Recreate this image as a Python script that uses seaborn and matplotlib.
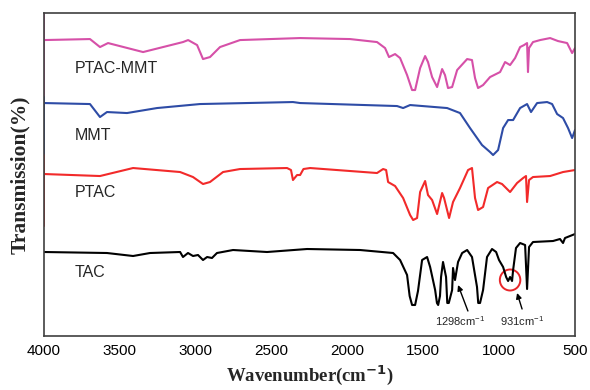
import seaborn as sns
import matplotlib.pyplot as plt
import matplotlib.patches as mpatches
import pandas as pd

# FTIR spectra, values (stacked, arbitrary transmission units)
wn_ptac_mmt = [4000, 3697, 3631, 3578, 3347, 3084, 3050, 2991, 2952, 2906, 2840, 2708,
               2312, 1983, 1805, 1752, 1726, 1686, 1653, 1607, 1574, 1554, 1521, 1488,
               1469, 1442, 1409, 1376, 1357, 1337, 1310, 1277, 1211, 1179, 1159, 1139,
               1106, 1060, 994, 961, 928, 895, 862, 836, 816, 810, 803, 777, 730, 664,
               612, 552, 519, 500]
t_ptac_mmt = [296, 297, 289, 293, 284, 294, 296, 291, 277, 279, 289, 296,
              298, 297, 294, 288, 279, 282, 278, 261, 246, 246, 268, 280,
              274, 259, 249, 267, 261, 248, 249, 266, 277, 276, 258, 248,
              251, 259, 264, 274, 271, 278, 289, 291, 293, 264, 288, 294, 296, 298,
              295, 293, 283, 288]

wn_mmt = [4000, 3697, 3631, 3585, 3453, 3255, 2972, 2359, 2312, 1673, 1633, 1587,
          1343, 1258, 1192, 1113, 1060, 1040, 1007, 974, 941, 908, 862, 816, 790,
          750, 684, 651, 618, 579, 546, 519, 500]
t_mmt = [233, 232, 219, 224, 223, 228, 232, 234, 233, 230, 228, 231,
         228, 223, 208, 191, 184, 181, 186, 208, 216, 216, 228, 232, 224,
         233, 234, 232, 222, 218, 208, 198, 206]

wn_ptac = [4000, 3631, 3413, 3103, 3018, 2952, 2906, 2820, 2708, 2398, 2372, 2359,
           2332, 2312, 2290, 2246, 1805, 1765, 1745, 1732, 1686, 1633, 1587, 1567,
           1541, 1521, 1488, 1469, 1442, 1409, 1376, 1363, 1330, 1304, 1258, 1205,
           1179, 1159, 1139, 1106, 1073, 1014, 981, 961, 928, 882, 842, 823, 816,
           803, 777, 664, 579, 500]
t_ptac = [162, 160, 168, 164, 159, 152, 154, 164, 167, 168, 166, 156,
          161, 161, 167, 168, 163, 167, 166, 154, 150, 138, 121, 116,
          118, 144, 155, 141, 136, 122, 143, 138, 118, 134, 148, 166,
          168, 138, 126, 129, 148, 154, 152, 149, 144, 153, 158, 160, 134,
          156, 159, 160, 164, 166]

wn_tac = [4000, 3585, 3413, 3301, 3103, 3084, 3051, 3018, 2985, 2952, 2925, 2893,
          2860, 2754, 2530, 2266, 1917, 1699, 1653, 1607, 1590, 1574, 1554, 1535,
          1508, 1475, 1455, 1422, 1410, 1402, 1390, 1383, 1370, 1350, 1342, 1332,
          1310, 1304, 1291, 1271, 1244, 1211, 1179, 1146, 1138, 1126, 1106, 1080,
          1047, 1020, 1001, 974, 954, 941, 928, 915, 908, 889, 862, 829, 816, 803,
          777, 645, 599, 579, 566, 500]
t_tac = [84, 83, 80, 83, 84, 79, 83, 80, 81, 76, 79, 78,
         83, 86, 84, 87, 86, 83, 76, 61, 40, 31, 31, 45,
         76, 79, 69, 46, 33, 31, 40, 59, 74, 59, 33, 33,
         46, 68, 56, 74, 83, 86, 79, 49, 33, 33, 46, 79,
         87, 84, 76, 69, 59, 55, 59, 55, 66, 88, 93, 91, 47, 89,
         94, 95, 97, 93, 98, 102]

samples = ["PTAC-MMT", "MMT", "PTAC", "TAC"]
colors = ["#d650a8", "#2e4ca6", "#f22a2a", "#000000"]

# label positions (wavenumber, transmission units)
label_y = [268, 201, 144, 64]
peak_labels = ["1298cm$^{-1}$", "931cm$^{-1}$"]
peak_text_wn = [1258, 849]

df = pd.concat([
    pd.DataFrame({"wn": wn_ptac_mmt, "T": t_ptac_mmt, "sample": "PTAC-MMT"}),
    pd.DataFrame({"wn": wn_mmt, "T": t_mmt, "sample": "MMT"}),
    pd.DataFrame({"wn": wn_ptac, "T": t_ptac, "sample": "PTAC"}),
    pd.DataFrame({"wn": wn_tac, "T": t_tac, "sample": "TAC"}),
])

sns.set_style("white")
plt.rcParams['font.family'] = ['Liberation Sans', 'DejaVu Sans']
plt.rcParams['mathtext.default'] = 'regular'

fig = plt.figure(figsize=(5.9, 3.9), dpi=100)
ax = fig.add_axes([0.0746, 0.1385, 0.9, 0.828])

sns.lineplot(data=df, x="wn", y="T", hue="sample", hue_order=samples,
             palette=colors, linewidth=1.5, legend=False, ax=ax)

ax.set_xlim(4000, 500)
ax.set_ylim(0, 323)
ax.set_xticks([4000, 3500, 3000, 2500, 2000, 1500, 1000, 500])
ax.set_xticks([3750, 3250, 2750, 2250, 1750, 1250, 750], minor=True)
ax.set_yticks([])
ax.tick_params(axis='x', which='major', direction='in', length=4, width=1,
               labelsize=11, pad=6, colors='0.2', labelcolor='black')
ax.tick_params(axis='x', which='minor', direction='in', length=3, width=1, colors='0.2')

for axis in ['top', 'bottom', 'left', 'right']:
    ax.spines[axis].set_linewidth(1.2)
    ax.spines[axis].set_color('0.25')

# coloured strips on the left frame, as in the original
ax.axvline(4000, ymin=0.74, ymax=1.0, color=colors[0], lw=1.4)
ax.axvline(4000, ymin=0.56, ymax=0.74, color=colors[1], lw=1.4)
ax.axvline(4000, ymin=0.34, ymax=0.56, color=colors[2], lw=1.4)

# sample labels
for name, y in zip(samples, label_y):
    ax.text(3800, y, name, fontsize=11.5, va='center', ha='left')

# peak annotations
ax.add_patch(mpatches.Ellipse((928, 56), 135, 21, fill=False, ec='#e8262a', lw=1.4))
for lab, x in zip(peak_labels, peak_text_wn):
    ax.text(x, 15, lab, fontsize=8, ha='center', va='center', color='0.15')
arrow = dict(arrowstyle='-|>', color='black', lw=1, mutation_scale=8, shrinkA=0, shrinkB=0)
ax.annotate("", xy=(1271, 51), xytext=(1206, 25), arrowprops=arrow)
ax.annotate("", xy=(882, 43), xytext=(849, 27), arrowprops=arrow)

ax.set_xlabel("Wavenumber(cm$^{\\mathbf{-1}}$)", family='Liberation Serif',
              fontweight='bold', fontsize=13.5, labelpad=4)
ax.set_ylabel("Transmission(%)", family='Liberation Serif',
              fontweight='bold', fontsize=15.5, labelpad=10)

plt.savefig('out.png', dpi=100)
